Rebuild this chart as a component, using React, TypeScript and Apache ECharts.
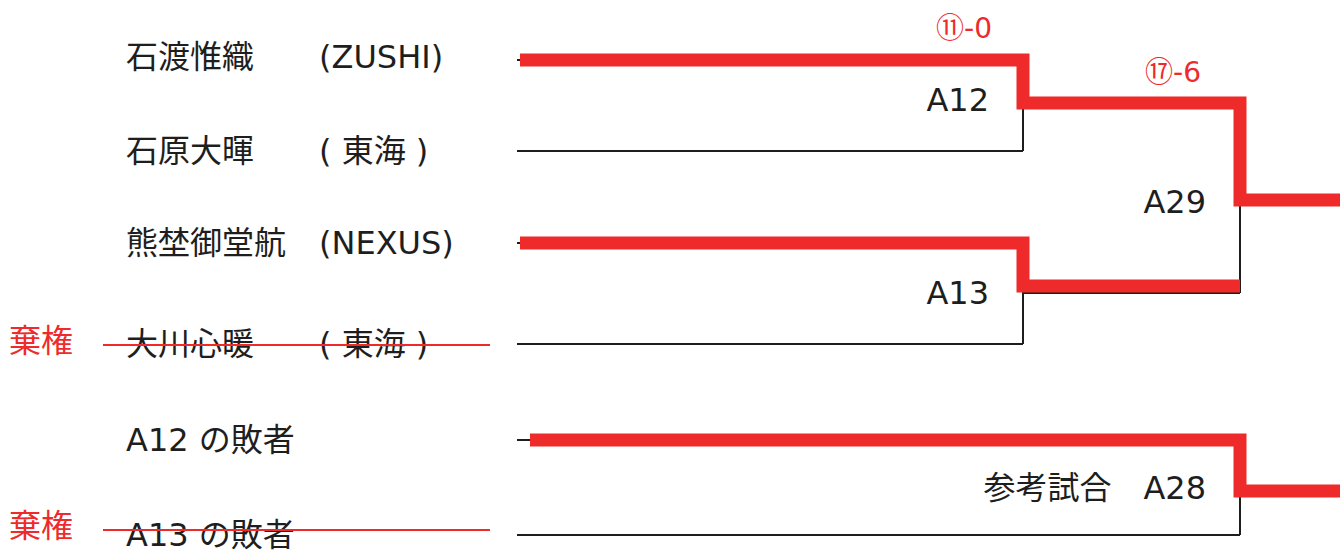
import React, { useEffect, useRef } from "react";
import * as echarts from "echarts";

// ---- Data ----
const players = ["石渡惟織", "石原大暉", "熊埜御堂航", "大川心暖", "A12 の敗者", "A13 の敗者"];
const teams = ["(ZUSHI)", "( 東海 )", "(NEXUS)", "( 東海 )", "", ""];
const forfeited = [false, false, false, true, false, true];
const forfeitLabel = "棄権";
const matchNames = ["A12", "A13", "A29", "参考試合　A28"];
const matchScores = ["⑪-0", "", "⑰-6", ""];

// ---- Layout ----
const W = 1340;
const H = 550;
const rowY = [60, 151, 243, 344, 440, 535];
const xStart = 517;
const xR1 = 1023;
const xR2 = 1240;
const xEnd = 1340;
const nameX = 126;
const teamX = 319;
const RED = "#EE2A2A";
const INK = "#1E1E1E";
const FONT = "'DejaVu Sans', 'Noto Sans CJK JP', sans-serif";
const FS = 32;

export default function App() {
  const ref = useRef<HTMLDivElement>(null);
  useEffect(() => {
    if (!ref.current) return;
    const chart = echarts.init(ref.current, null, { renderer: "svg" });

    const a12Y = 103;
    const a13Y = 293;
    const a29Y = 200;
    const a28Y = 491;

    const black: number[][][] = [
      [[xStart, rowY[0]], [xR1, rowY[0]]],
      [[xStart, rowY[1]], [xR1, rowY[1]]],
      [[xR1, rowY[0]], [xR1, rowY[1]]],
      [[xR1, a12Y], [xR2, a12Y]],
      [[xStart, rowY[2]], [xR1, rowY[2]]],
      [[xStart, rowY[3]], [xR1, rowY[3]]],
      [[xR1, rowY[2]], [xR1, rowY[3]]],
      [[xR1, a13Y], [xR2, a13Y]],
      [[xR2, a12Y], [xR2, a13Y]],
      [[xR2, a29Y], [xEnd, a29Y]],
      [[xStart, rowY[4]], [xR2, rowY[4]]],
      [[xStart, rowY[5]], [xR2, rowY[5]]],
      [[xR2, rowY[4]], [xR2, rowY[5]]],
      [[xR2, a28Y], [xEnd, a28Y]],
    ];
    const red: number[][][] = [
      [[520, rowY[0]], [xR1, rowY[0]], [xR1, a12Y], [xR2, a12Y], [xR2, a29Y], [xEnd, a29Y]],
      [[520, rowY[2]], [xR1, rowY[2]], [xR1, a13Y - 7], [xR2, a13Y - 7]],
      [[530, rowY[4]], [xR2, rowY[4]], [xR2, a28Y], [xEnd, a28Y]],
    ];
    const strikes: number[][][] = [];
    forfeited.forEach((f, i) => {
      if (f) strikes.push([[103, i === 5 ? rowY[i] - 5 : rowY[i] + 1], [490, i === 5 ? rowY[i] - 5 : rowY[i] + 1]]);
    });

    const lineSeries = (pts: number[][], color: string, width: number) => ({
      type: "line",
      data: pts,
      showSymbol: false,
      symbol: "none",
      silent: true,
      clip: false,
      lineStyle: { color, width, join: "miter", cap: "butt" },
    });

    const lab = (x: number, y: number, text: string, align: string, color = INK, fs = FS) => ({
      value: [x, y],
      itemStyle: { opacity: 1, color: "rgba(0,0,0,0)" },
      label: {
        show: true,
        position: "inside",
        formatter: text,
        align,
        verticalAlign: "middle",
        color,
        opacity: 1,
        fontSize: fs,
        fontFamily: FONT,
        textBorderWidth: 0,
      },
    });

    const labels: any[] = [];
    players.forEach((p, i) => {
      const yy = i === 0 ? rowY[i] - 3 : rowY[i];
      labels.push(lab(nameX, yy, p, "left"));
      if (teams[i]) labels.push(lab(teamX, yy, teams[i], "left"));
      if (forfeited[i]) labels.push(lab(9, rowY[i] - (i === 5 ? 9 : 3), forfeitLabel, "left", RED));
    });
    labels.push(lab(989, 100, matchNames[0], "right"));
    labels.push(lab(989, 293, matchNames[1], "right"));
    labels.push(lab(1206, 202, matchNames[2], "right"));
    labels.push(lab(1206, 488, matchNames[3], "right"));
    labels.push(lab(964, 28, matchScores[0], "center", RED, 28));
    labels.push(lab(1173, 72, matchScores[2], "center", RED, 28));

    chart.setOption({
      animation: false,
      grid: { left: 0, right: 0, top: 0, bottom: 0 },
      xAxis: { type: "value", min: 0, max: W, show: false },
      yAxis: { type: "value", min: 0, max: H, inverse: true, show: false },
      series: [
        ...black.map((p) => lineSeries(p, INK, 2)),
        ...red.map((p) => lineSeries(p, RED, 13)),
        ...strikes.map((p) => lineSeries(p, RED, 2)),
        {
          type: "scatter",
          silent: true,
          symbolSize: 1,
          itemStyle: { color: "rgba(0,0,0,0)", opacity: 1 },
          data: labels,
        },
      ],
    });
    return () => chart.dispose();
  }, []);
  return (
    <div
      ref={ref}
      style={{ position: "absolute", left: 0, top: 0, width: W, height: H, background: "#fff" }}
    />
  );
}
